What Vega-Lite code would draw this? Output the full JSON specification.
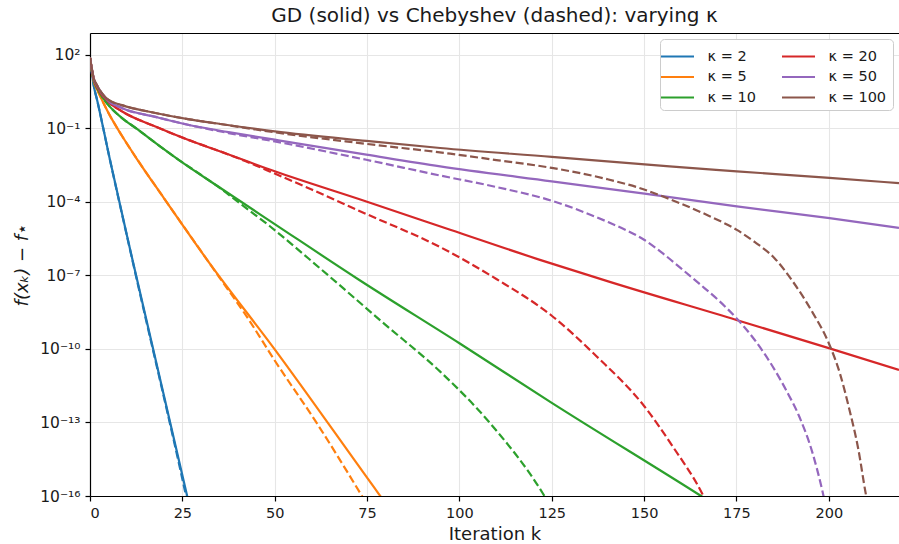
{
  "$schema": "https://vega.github.io/schema/vega-lite/v6.json",
  "width": 809,
  "height": 463,
  "autosize": {"type": "none"},
  "padding": {"left": 90, "top": 33, "right": 0, "bottom": 48},
  "background": "white",
  "config": {
    "font": "DejaVu Sans",
    "view": {"stroke": null},
    "axis": {
      "labelFont": "DejaVu Sans",
      "titleFont": "DejaVu Sans",
      "labelFontSize": 14.5,
      "titleFontSize": 18,
      "titleFontWeight": "normal",
      "labelColor": "#1a1a1a",
      "titleColor": "#1a1a1a",
      "domainColor": "#000000",
      "domainWidth": 1.2,
      "tickColor": "#000000",
      "tickWidth": 1.2,
      "tickSize": 5,
      "labelPadding": 5,
      "gridColor": "#e6e6e6",
      "gridWidth": 1.1
    },
    "legend": {
      "labelFont": "DejaVu Sans",
      "labelFontSize": 14.5,
      "labelColor": "#1a1a1a"
    }
  },
  "title": {
    "text": "GD (solid) vs Chebyshev (dashed): varying κ",
    "font": "DejaVu Sans",
    "fontSize": 20,
    "fontWeight": "normal",
    "color": "#1a1a1a",
    "anchor": "middle",
    "offset": 7
  },
  "datasets": {
    "gd": [
      {"kappa": "κ = 2", "k": 0, "f": 74.1},
      {"kappa": "κ = 2", "k": 1, "f": 5.62},
      {"kappa": "κ = 2", "k": 2, "f": 1.26},
      {"kappa": "κ = 2", "k": 5.4, "f": 5.13e-3},
      {"kappa": "κ = 2", "k": 11.5, "f": 4.27e-7},
      {"kappa": "κ = 2", "k": 26.3, "f": 1e-16},
      {"kappa": "κ = 2", "k": 27, "f": 3.55e-17},

      {"kappa": "κ = 5", "k": 0, "f": 74.1},
      {"kappa": "κ = 5", "k": 1, "f": 7.94},
      {"kappa": "κ = 5", "k": 2, "f": 3.55},
      {"kappa": "κ = 5", "k": 4.9, "f": 0.447},
      {"kappa": "κ = 5", "k": 8.6, "f": 0.0501},
      {"kappa": "κ = 5", "k": 12.9, "f": 5.01e-3},
      {"kappa": "κ = 5", "k": 20, "f": 1.41e-4},
      {"kappa": "κ = 5", "k": 31.7, "f": 4.27e-7},
      {"kappa": "κ = 5", "k": 49.9, "f": 1e-10},
      {"kappa": "κ = 5", "k": 78.1, "f": 1.26e-16},
      {"kappa": "κ = 5", "k": 81, "f": 3.16e-17},

      {"kappa": "κ = 10", "k": 0, "f": 74.1},
      {"kappa": "κ = 10", "k": 1, "f": 8.91},
      {"kappa": "κ = 10", "k": 2, "f": 3.98},
      {"kappa": "κ = 10", "k": 4.9, "f": 0.912},
      {"kappa": "κ = 10", "k": 8.6, "f": 0.263},
      {"kappa": "κ = 10", "k": 12.9, "f": 0.0891},
      {"kappa": "κ = 10", "k": 17.7, "f": 0.0251},
      {"kappa": "κ = 10", "k": 24, "f": 5.13e-3},
      {"kappa": "κ = 10", "k": 35.3, "f": 3.63e-4},
      {"kappa": "κ = 10", "k": 50, "f": 1.23e-5},
      {"kappa": "κ = 10", "k": 72.8, "f": 6.61e-8},
      {"kappa": "κ = 10", "k": 100, "f": 1.70e-10},
      {"kappa": "κ = 10", "k": 125, "f": 6.31e-13},
      {"kappa": "κ = 10", "k": 165, "f": 1.10e-16},
      {"kappa": "κ = 10", "k": 167, "f": 7.08e-17},

      {"kappa": "κ = 20", "k": 0, "f": 74.1},
      {"kappa": "κ = 20", "k": 1, "f": 10},
      {"kappa": "κ = 20", "k": 2, "f": 4.47},
      {"kappa": "κ = 20", "k": 4.9, "f": 1.23},
      {"kappa": "κ = 20", "k": 8.6, "f": 0.49},
      {"kappa": "κ = 20", "k": 17.7, "f": 0.117},
      {"kappa": "κ = 20", "k": 26.5, "f": 0.0339},
      {"kappa": "κ = 20", "k": 35.3, "f": 0.0112},
      {"kappa": "κ = 20", "k": 50, "f": 1.74e-3},
      {"kappa": "κ = 20", "k": 74.8, "f": 1.02e-4},
      {"kappa": "κ = 20", "k": 97.5, "f": 7.24e-6},
      {"kappa": "κ = 20", "k": 121.8, "f": 4.27e-7},
      {"kappa": "κ = 20", "k": 140.7, "f": 5.37e-8},
      {"kappa": "κ = 20", "k": 175, "f": 1.51e-9},
      {"kappa": "κ = 20", "k": 200, "f": 1.07e-10},
      {"kappa": "κ = 20", "k": 219, "f": 1.38e-11},

      {"kappa": "κ = 50", "k": 0, "f": 74.1},
      {"kappa": "κ = 50", "k": 1, "f": 10.5},
      {"kappa": "κ = 50", "k": 2, "f": 5.01},
      {"kappa": "κ = 50", "k": 4.9, "f": 1.32},
      {"kappa": "κ = 50", "k": 8.6, "f": 0.661},
      {"kappa": "κ = 50", "k": 17.7, "f": 0.288},
      {"kappa": "κ = 50", "k": 26.5, "f": 0.138},
      {"kappa": "κ = 50", "k": 37.5, "f": 0.0692},
      {"kappa": "κ = 50", "k": 50, "f": 0.0339},
      {"kappa": "κ = 50", "k": 74.8, "f": 8.32e-3},
      {"kappa": "κ = 50", "k": 94.8, "f": 2.75e-3},
      {"kappa": "κ = 50", "k": 125, "f": 6.76e-4},
      {"kappa": "κ = 50", "k": 150.1, "f": 2.14e-4},
      {"kappa": "κ = 50", "k": 175.1, "f": 6.46e-5},
      {"kappa": "κ = 50", "k": 200.2, "f": 2.14e-5},
      {"kappa": "κ = 50", "k": 219, "f": 8.51e-6},

      {"kappa": "κ = 100", "k": 0, "f": 74.1},
      {"kappa": "κ = 100", "k": 1, "f": 11.2},
      {"kappa": "κ = 100", "k": 2, "f": 5.25},
      {"kappa": "κ = 100", "k": 4.9, "f": 1.445},
      {"kappa": "κ = 100", "k": 8.6, "f": 0.871},
      {"kappa": "κ = 100", "k": 17.7, "f": 0.417},
      {"kappa": "κ = 100", "k": 26.5, "f": 0.234},
      {"kappa": "κ = 100", "k": 35.3, "f": 0.148},
      {"kappa": "κ = 100", "k": 50, "f": 0.0741},
      {"kappa": "κ = 100", "k": 74.8, "f": 0.0302},
      {"kappa": "κ = 100", "k": 94.8, "f": 0.0155},
      {"kappa": "κ = 100", "k": 125, "f": 6.76e-3},
      {"kappa": "κ = 100", "k": 156.9, "f": 2.75e-3},
      {"kappa": "κ = 100", "k": 175.1, "f": 1.74e-3},
      {"kappa": "κ = 100", "k": 200.2, "f": 9.33e-4},
      {"kappa": "κ = 100", "k": 219, "f": 5.75e-4}
    ],
    "cheb": [
      {"kappa": "κ = 2", "k": 0, "f": 74.1},
      {"kappa": "κ = 2", "k": 1, "f": 5.62},
      {"kappa": "κ = 2", "k": 2, "f": 1.26},
      {"kappa": "κ = 2", "k": 5.4, "f": 5.13e-3},
      {"kappa": "κ = 2", "k": 11.5, "f": 4.0e-7},
      {"kappa": "κ = 2", "k": 26.0, "f": 1e-16},
      {"kappa": "κ = 2", "k": 26.6, "f": 3.8e-17},

      {"kappa": "κ = 5", "k": 0, "f": 74.1},
      {"kappa": "κ = 5", "k": 1, "f": 7.94},
      {"kappa": "κ = 5", "k": 2, "f": 3.55},
      {"kappa": "κ = 5", "k": 4.9, "f": 0.447},
      {"kappa": "κ = 5", "k": 8.6, "f": 0.0501},
      {"kappa": "κ = 5", "k": 12.9, "f": 5.01e-3},
      {"kappa": "κ = 5", "k": 20, "f": 1.41e-4},
      {"kappa": "κ = 5", "k": 31.7, "f": 4.27e-7},
      {"kappa": "κ = 5", "k": 35, "f": 8.32e-8},
      {"kappa": "κ = 5", "k": 42.5, "f": 2.0e-9},
      {"kappa": "κ = 5", "k": 49.9, "f": 3.55e-11},
      {"kappa": "κ = 5", "k": 61.4, "f": 9.33e-14},
      {"kappa": "κ = 5", "k": 72.9, "f": 1.51e-16},
      {"kappa": "κ = 5", "k": 74.5, "f": 6.03e-17},

      {"kappa": "κ = 10", "k": 0, "f": 74.1},
      {"kappa": "κ = 10", "k": 1, "f": 8.91},
      {"kappa": "κ = 10", "k": 2, "f": 3.98},
      {"kappa": "κ = 10", "k": 4.9, "f": 0.912},
      {"kappa": "κ = 10", "k": 8.6, "f": 0.263},
      {"kappa": "κ = 10", "k": 12.9, "f": 0.0891},
      {"kappa": "κ = 10", "k": 17.7, "f": 0.0251},
      {"kappa": "κ = 10", "k": 24, "f": 5.13e-3},
      {"kappa": "κ = 10", "k": 30, "f": 1.26e-3},
      {"kappa": "κ = 10", "k": 35.3, "f": 3.5e-4},
      {"kappa": "κ = 10", "k": 40, "f": 1e-4},
      {"kappa": "κ = 10", "k": 48.7, "f": 1e-5},
      {"kappa": "κ = 10", "k": 62.6, "f": 1.74e-7},
      {"kappa": "κ = 10", "k": 80, "f": 9.55e-10},
      {"kappa": "κ = 10", "k": 94.8, "f": 1.175e-11},
      {"kappa": "κ = 10", "k": 108.3, "f": 9.33e-14},
      {"kappa": "κ = 10", "k": 122.6, "f": 1.26e-16},
      {"kappa": "κ = 10", "k": 124, "f": 5.62e-17},

      {"kappa": "κ = 20", "k": 0, "f": 74.1},
      {"kappa": "κ = 20", "k": 1, "f": 10},
      {"kappa": "κ = 20", "k": 2, "f": 4.47},
      {"kappa": "κ = 20", "k": 4.9, "f": 1.23},
      {"kappa": "κ = 20", "k": 8.6, "f": 0.49},
      {"kappa": "κ = 20", "k": 17.7, "f": 0.117},
      {"kappa": "κ = 20", "k": 26.5, "f": 0.0339},
      {"kappa": "κ = 20", "k": 35.3, "f": 0.0112},
      {"kappa": "κ = 20", "k": 42, "f": 4.57e-3},
      {"kappa": "κ = 20", "k": 50, "f": 1.41e-3},
      {"kappa": "κ = 20", "k": 60, "f": 3.16e-4},
      {"kappa": "κ = 20", "k": 74.8, "f": 3.16e-5},
      {"kappa": "κ = 20", "k": 94.8, "f": 1.41e-6},
      {"kappa": "κ = 20", "k": 110, "f": 7.08e-8},
      {"kappa": "κ = 20", "k": 125, "f": 2.24e-9},
      {"kappa": "κ = 20", "k": 137.1, "f": 5.01e-11},
      {"kappa": "κ = 20", "k": 150.1, "f": 4.47e-13},
      {"kappa": "κ = 20", "k": 157.8, "f": 1.02e-14},
      {"kappa": "κ = 20", "k": 165.9, "f": 1.10e-16},
      {"kappa": "κ = 20", "k": 167, "f": 5.01e-17},

      {"kappa": "κ = 50", "k": 0, "f": 74.1},
      {"kappa": "κ = 50", "k": 1, "f": 10.5},
      {"kappa": "κ = 50", "k": 2, "f": 5.01},
      {"kappa": "κ = 50", "k": 4.9, "f": 1.32},
      {"kappa": "κ = 50", "k": 8.6, "f": 0.661},
      {"kappa": "κ = 50", "k": 17.7, "f": 0.288},
      {"kappa": "κ = 50", "k": 26.5, "f": 0.138},
      {"kappa": "κ = 50", "k": 37.5, "f": 0.0631},
      {"kappa": "κ = 50", "k": 50, "f": 0.0288},
      {"kappa": "κ = 50", "k": 74.8, "f": 5.13e-3},
      {"kappa": "κ = 50", "k": 94.8, "f": 1.17e-3},
      {"kappa": "κ = 50", "k": 110, "f": 3.98e-4},
      {"kappa": "κ = 50", "k": 125, "f": 1.10e-4},
      {"kappa": "κ = 50", "k": 139.8, "f": 1.58e-5},
      {"kappa": "κ = 50", "k": 145, "f": 7.08e-6},
      {"kappa": "κ = 50", "k": 150, "f": 2.82e-6},
      {"kappa": "κ = 50", "k": 155, "f": 7.94e-7},
      {"kappa": "κ = 50", "k": 160, "f": 1.91e-7},
      {"kappa": "κ = 50", "k": 165, "f": 4.47e-8},
      {"kappa": "κ = 50", "k": 170, "f": 1e-8},
      {"kappa": "κ = 50", "k": 175, "f": 1.78e-9},
      {"kappa": "κ = 50", "k": 180, "f": 2.24e-10},
      {"kappa": "κ = 50", "k": 184.8, "f": 1.91e-11},
      {"kappa": "κ = 50", "k": 188.5, "f": 2.0e-12},
      {"kappa": "κ = 50", "k": 192, "f": 1.74e-13},
      {"kappa": "κ = 50", "k": 195.5, "f": 6.31e-15},
      {"kappa": "κ = 50", "k": 198.3, "f": 1.51e-16},
      {"kappa": "κ = 50", "k": 199, "f": 5.01e-17},

      {"kappa": "κ = 100", "k": 0, "f": 74.1},
      {"kappa": "κ = 100", "k": 1, "f": 11.2},
      {"kappa": "κ = 100", "k": 2, "f": 5.25},
      {"kappa": "κ = 100", "k": 4.9, "f": 1.445},
      {"kappa": "κ = 100", "k": 8.6, "f": 0.871},
      {"kappa": "κ = 100", "k": 17.7, "f": 0.417},
      {"kappa": "κ = 100", "k": 26.5, "f": 0.234},
      {"kappa": "κ = 100", "k": 35.3, "f": 0.148},
      {"kappa": "κ = 100", "k": 50, "f": 0.0676},
      {"kappa": "κ = 100", "k": 74.8, "f": 0.0229},
      {"kappa": "κ = 100", "k": 97.5, "f": 9.12e-3},
      {"kappa": "κ = 100", "k": 110, "f": 5.01e-3},
      {"kappa": "κ = 100", "k": 125, "f": 2.40e-3},
      {"kappa": "κ = 100", "k": 140, "f": 8.32e-4},
      {"kappa": "κ = 100", "k": 150, "f": 3.16e-4},
      {"kappa": "κ = 100", "k": 155, "f": 1.66e-4},
      {"kappa": "κ = 100", "k": 160, "f": 8.32e-5},
      {"kappa": "κ = 100", "k": 167.6, "f": 2.63e-5},
      {"kappa": "κ = 100", "k": 175.1, "f": 7.08e-6},
      {"kappa": "κ = 100", "k": 180, "f": 2.24e-6},
      {"kappa": "κ = 100", "k": 185.3, "f": 5.01e-7},
      {"kappa": "κ = 100", "k": 190, "f": 6.31e-8},
      {"kappa": "κ = 100", "k": 195.7, "f": 2.88e-9},
      {"kappa": "κ = 100", "k": 200, "f": 1.70e-10},
      {"kappa": "κ = 100", "k": 203, "f": 1e-11},
      {"kappa": "κ = 100", "k": 205.6, "f": 3.24e-13},
      {"kappa": "κ = 100", "k": 208, "f": 7.94e-15},
      {"kappa": "κ = 100", "k": 209.9, "f": 1.51e-16},
      {"kappa": "κ = 100", "k": 210.5, "f": 5.01e-17}
    ]
  },
  "layer": [
    {
      "data": {"name": "gd"},
      "mark": {"type": "line", "strokeWidth": 2.2, "clip": true, "interpolate": "monotone"},
      "encoding": {
        "x": {
          "field": "k", "type": "quantitative",
          "scale": {"domain": [0, 219], "nice": false, "zero": false},
          "axis": {"orient": "bottom", "values": [0, 25, 50, 75, 100, 125, 150, 175, 200], "title": "Iteration k", "titlePadding": 6, "grid": true}
        },
        "y": {
          "field": "f", "type": "quantitative",
          "scale": {"type": "log", "domain": [1e-16, 760], "nice": false},
          "axis": {
            "values": [100, 0.1, 1e-4, 1e-7, 1e-10, 1e-13, 1e-16],
            "labelExpr": "datum.value > 10 ? '10²' : datum.value > 0.01 ? '10⁻¹' : datum.value > 1e-5 ? '10⁻⁴' : datum.value > 1e-8 ? '10⁻⁷' : datum.value > 1e-11 ? '10⁻¹⁰' : datum.value > 1e-14 ? '10⁻¹³' : '10⁻¹⁶'",
            "labelFontSize": 15.5,
            "title": "f(xₖ) − f⋆",
            "titleFontStyle": "italic",
            "titlePadding": 8,
            "grid": true
          }
        },
        "color": {
          "field": "kappa", "type": "nominal",
          "scale": {
            "domain": ["κ = 2", "κ = 5", "κ = 10", "κ = 20", "κ = 50", "κ = 100"],
            "range": ["#1f77b4", "#ff7f0e", "#2ca02c", "#d62728", "#9467bd", "#8c564b"]
          },
          "legend": {
            "title": null,
            "orient": "top-right",
            "offset": 6,
            "columns": 2,
            "symbolType": "M-1.65,0H1.65",
            "symbolSize": 400,
            "symbolStrokeWidth": 2.2,
            "symbolDash": [1, 0],
            "labelOffset": 18.5,
            "columnPadding": 21,
            "rowPadding": 2.5,
            "padding": 6,
            "strokeColor": "#cccccc",
            "fillColor": "white",
            "cornerRadius": 4
          }
        }
      }
    },
    {
      "data": {"name": "cheb"},
      "mark": {"type": "line", "strokeWidth": 2.2, "strokeDash": [8, 3.5], "clip": true, "interpolate": "monotone"},
      "encoding": {
        "x": {
          "field": "k", "type": "quantitative",
          "scale": {"domain": [0, 219], "nice": false, "zero": false},
          "axis": {"orient": "top", "labels": false, "ticks": false, "grid": false, "title": null, "domain": true}
        },
        "y": {
          "field": "f", "type": "quantitative",
          "scale": {"type": "log", "domain": [1e-16, 760], "nice": false}
        },
        "color": {
          "field": "kappa", "type": "nominal",
          "scale": {
            "domain": ["κ = 2", "κ = 5", "κ = 10", "κ = 20", "κ = 50", "κ = 100"],
            "range": ["#1f77b4", "#ff7f0e", "#2ca02c", "#d62728", "#9467bd", "#8c564b"]
          }
        }
      }
    }
  ],
  "resolve": {"axis": {"x": "independent"}}
}
